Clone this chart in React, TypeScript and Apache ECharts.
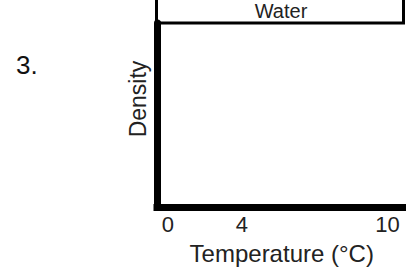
import React, { useEffect, useRef } from "react";
import * as echarts from "echarts";

const xTicks = [0, 4, 10];
const xMin = -0.5;
const xMax = 10.68;
const boxLabel = "Water";
const xTitle = "Temperature (°C)";
const yTitle = "Density";
const questionNumber = "3.";

const FONT = "Liberation Sans";

export default function App() {
  const ref = useRef<HTMLDivElement>(null);
  useEffect(() => {
    if (!ref.current) return;
    const chart = echarts.init(ref.current, null, { renderer: "svg" });
    chart.setOption({
      animation: false,
      backgroundColor: "#ffffff",
      grid: { left: 157, right: 6.5, top: 23, bottom: 65, outerBoundsMode: "none" },
      xAxis: {
        type: "value",
        min: xMin,
        max: xMax,
        name: xTitle,
        nameLocation: "middle",
        nameGap: 34,
        nameTextStyle: { fontFamily: FONT, fontSize: 24, color: "#222", padding: [0, 0, 0, 4] },
        axisLine: { show: true, onZero: false, lineStyle: { color: "#000", width: 7, cap: "square" } },
        axisTick: { show: false },
        splitLine: { show: false },
        axisLabel: {
          show: true,
          customValues: xTicks,
          margin: 6,
          fontFamily: FONT,
          fontSize: 22,
          color: "#222",
          formatter: (v: number) => (v === 4 ? "{s|4}" : String(v)),
          rich: {
            s: { fontFamily: FONT, fontSize: 22, color: "#222", padding: [0, 28, 0, 0] },
          },
        },
      },
      yAxis: {
        type: "value",
        min: 0,
        max: 1,
        name: yTitle,
        nameLocation: "middle",
        nameRotate: 90,
        nameGap: 8,
        nameTextStyle: { fontFamily: FONT, fontSize: 23, color: "#222", padding: [0, 0, 0, 32] },
        axisLine: { show: true, onZero: false, lineStyle: { color: "#000", width: 7 } },
        axisTick: { show: false },
        axisLabel: { show: false },
        splitLine: { show: false },
      },
      series: [],
      graphic: [
        {
          type: "rect",
          shape: { x: 156.5, y: -10, width: 247, height: 33 },
          style: { fill: "#fff", stroke: "#000", lineWidth: 3 },
        },
        {
          type: "text",
          x: 281,
          y: 11,
          style: {
            text: boxLabel,
            fontFamily: FONT,
            fontSize: 20,
            fill: "#222",
            align: "center",
            verticalAlign: "middle",
          },
        },
        {
          type: "text",
          x: 16,
          y: 65,
          style: {
            text: questionNumber,
            fontFamily: FONT,
            fontSize: 26,
            fill: "#111",
            align: "left",
            verticalAlign: "middle",
          },
        },
      ],
    });
    return () => chart.dispose();
  }, []);
  return <div ref={ref} style={{ width: 409, height: 272, position: "absolute", left: 0, top: 0 }} />;
}
